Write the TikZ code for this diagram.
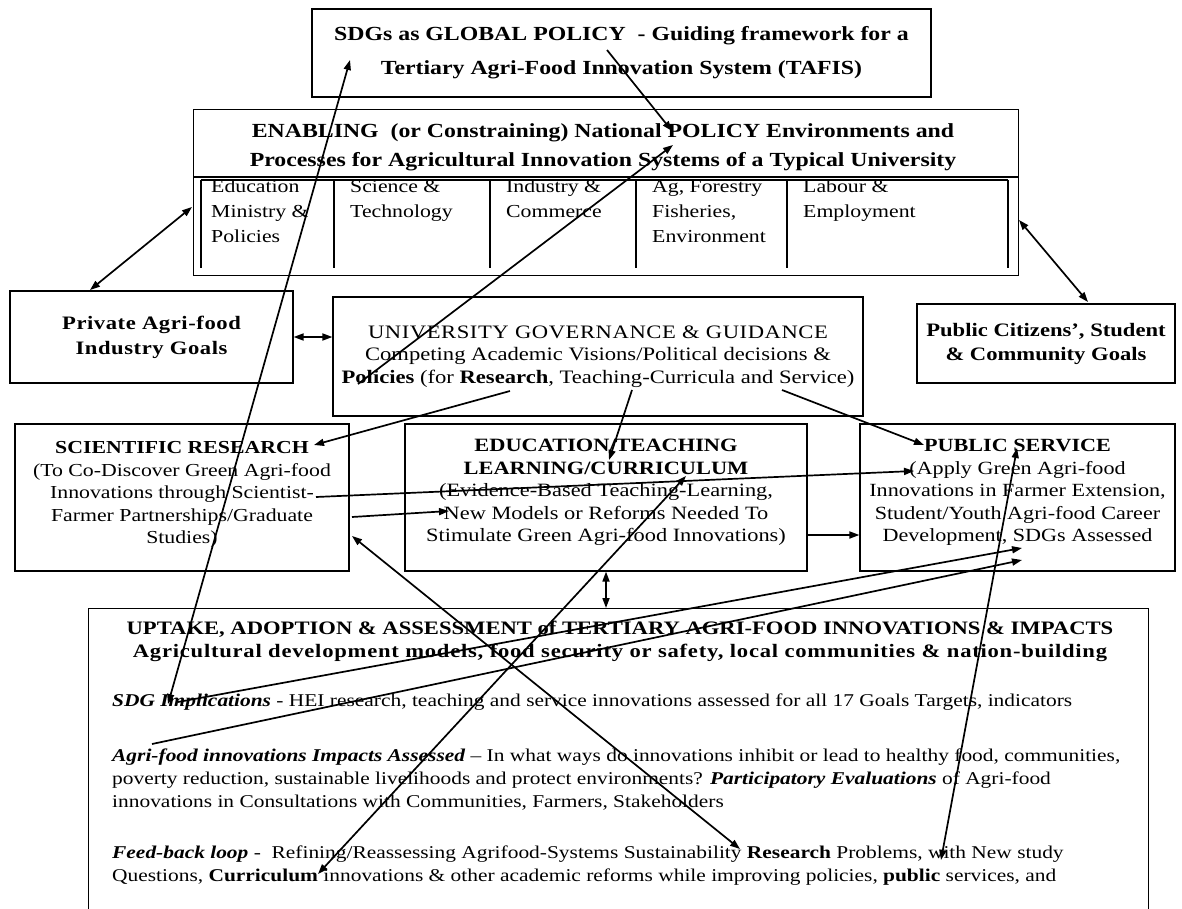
\documentclass[tikz,border=0pt]{standalone}
\usepackage{fontspec}
\setmainfont{Liberation Serif}[FakeStretch=1.19]
\usetikzlibrary{arrows.meta}
\begin{document}
\begin{tikzpicture}[x=1pt,y=-1pt,
  box/.style={draw,line width=1.2pt,inner sep=0pt,align=center,font=\fontsize{18.3}{22.5}\selectfont},
  coltext/.style={anchor=north west,inner sep=0pt,align=left,font=\fontsize{18.3}{25}\selectfont},
  para/.style={anchor=north west,inner sep=0pt,align=left,font=\fontsize{18}{23}\selectfont},
  arr/.style={-{Triangle[length=10pt,width=7pt]},line width=1.7pt},
  darr/.style={{Triangle[length=10pt,width=7pt]}-{Triangle[length=10pt,width=7pt]},line width=1.7pt}]
\useasboundingbox (0,0) rectangle (1182,909);
\node[box,minimum width=619,minimum height=88,font=\bfseries\fontsize{20}{34}\selectfont] (sdg) at (621.5,53)
  {SDGs as GLOBAL POLICY \ - Guiding framework for a\\Tertiary Agri-Food Innovation System (TAFIS)};
\node[box,anchor=north west,minimum width=825,minimum height=166] (enabling) at (193,109) {};
\node[inner sep=0pt,align=center,font=\bfseries\fontsize{20}{29}\selectfont] (enabtitle) at (603,147)
  {ENABLING \ (or Constraining) National POLICY Environments and\\Processes for Agricultural Innovation Systems of a Typical University};
\draw[line width=1.2pt] (enabling.west |- 0,177) -- (enabling.east |- 0,177);
\draw[line width=1.2pt] (201,180) -- (1008,180);
\foreach \x in {201,334,490,636,787,1008} \draw[line width=1.2pt] (\x,180) -- (\x,268);
\node[coltext] (edu) at (211,180) {Education\\Ministry \&\\Policies};
\node[coltext] (sci) at (350,180) {Science \&\\Technology};
\node[coltext] (ind) at (506,180) {Industry \&\\Commerce};
\node[coltext] (agf) at (652,180) {Ag, Forestry\\Fisheries,\\Environment};
\node[coltext] (lab) at (803,180) {Labour \&\\Employment};
\node[box,minimum width=283,minimum height=92,font=\bfseries\fontsize{19}{25}\selectfont\addfontfeature{LetterSpace=3}] (private) at (151.5,337)
  {Private Agri-food\\Industry Goals};
\node[box,minimum width=530,minimum height=119,font=\fontsize{19}{22.5}\selectfont] (univ) at (598,356.5)
  {{\addfontfeature{LetterSpace=3}UNIVERSITY GOVERNANCE \& GUIDANCE}\\Competing Academic Visions/Political decisions \&\\\textbf{Policies} (for \textbf{Research}, Teaching-Curricula and Service)};
\node[box,minimum width=258,minimum height=79,font=\bfseries\fontsize{19}{24}\selectfont] (citizens) at (1046,343.5)
  {Public Citizens', Student\\\& Community Goals};
\node[box,minimum width=334,minimum height=147] (research) at (182,497.5)
  {\textbf{SCIENTIFIC RESEARCH}\\(To Co-Discover Green Agri-food\\Innovations through Scientist-\\Farmer Partnerships/Graduate\\Studies)\\[-12.5pt]};
\node[box,minimum width=402,minimum height=147,font=\fontsize{18.8}{22.5}\selectfont] (educ) at (606,497.5)
  {\textbf{EDUCATION/TEACHING}\\\textbf{LEARNING/CURRICULUM}\\(Evidence-Based Teaching-Learning,\\New Models or Reforms Needed To\\Stimulate Green Agri-food Innovations)\\[-8.5pt]};
\node[box,minimum width=315,minimum height=147,font=\fontsize{18.6}{22.5}\selectfont] (pubserv) at (1017.5,497.5)
  {\textbf{PUBLIC SERVICE}\\(Apply Green Agri-food\\Innovations in Farmer Extension,\\Student/Youth Agri-food Career\\Development, SDGs Assessed\\[-8.5pt]};
\node[box,anchor=north west,minimum width=1060,minimum height=310] (uptake) at (88,608) {};
\node[inner sep=0pt,align=center,font=\bfseries\fontsize{19}{23}\selectfont] (uptitle) at (620,641.5)
  {UPTAKE, ADOPTION \& ASSESSMENT of TERTIARY AGRI-FOOD INNOVATIONS \& IMPACTS\\{\addfontfeature{LetterSpace=4}Agricultural development models, food security or safety, local communities \& nation-building}};
\node[para] (sdgimp) at (112,694)
  {\textbf{\textit{SDG Implications}} - HEI research, teaching and service innovations assessed for all 17 Goals Targets, indicators};
\node[para] (impacts) at (112,749)
  {\textbf{\textit{Agri-food innovations Impacts Assessed}} – In what ways do innovations inhibit or lead to healthy food, communities,\\poverty reduction, sustainable livelihoods and protect environments? \textbf{\textit{Participatory Evaluations}} of Agri-food\\innovations in Consultations with Communities, Farmers, Stakeholders};
\node[para] (feedback) at (112,846)
  {\textbf{\textit{Feed-back loop}} - \ Refining/Reassessing Agrifood-Systems Sustainability \textbf{Research} Problems, with New study\\Questions, \textbf{Curriculum} innovations \& other academic reforms while improving policies, \textbf{public} services, and};
\coordinate (tafisL) at (350,60);
\coordinate (implL) at (168,704);
\coordinate (globalY) at (607,50);
\coordinate (natPolicy) at (672,131);
\coordinate (policiesW) at (358,384);
\coordinate (natPolicyB) at (673,145);
\coordinate (privTop) at (90,290);
\coordinate (enabW) at (192,207);
\coordinate (citTop) at (1088,302);
\coordinate (enabE) at (1019,220);
\coordinate (univRes) at (510,391);
\coordinate (resHead) at (314,445);
\coordinate (univCur) at (632,390);
\coordinate (eduHead) at (609,460);
\coordinate (univServ) at (782,390);
\coordinate (psHead) at (924,445);
\coordinate (scientist) at (316,497);
\coordinate (apply) at (914,471);
\coordinate (resE) at (352,517);
\coordinate (evidence) at (449,511);
\coordinate (resSE) at (352,536);
\coordinate (fbResearch) at (740,849);
\coordinate (curriculum) at (318,874);
\coordinate (eduCurr) at (686,476);
\coordinate (implR) at (178,702);
\coordinate (sdgsA) at (1022,548);
\coordinate (agrifood) at (152,744);
\coordinate (sdgsB) at (1022,560);
\coordinate (fbWith) at (941,860);
\coordinate (psTop) at (1017,448);
\draw[darr] (tafisL) -- (implL);
\draw[arr] (globalY) -- (natPolicy);
\draw[arr] (policiesW) -- (natPolicyB);
\draw[darr] (privTop) -- (enabW);
\draw[darr] (citTop) -- (enabE);
\draw[darr] (private.east) -- (univ.west |- private.east);
\draw[arr] (univRes) -- (resHead);
\draw[arr] (univCur) -- (eduHead);
\draw[arr] (univServ) -- (psHead);
\draw[arr] (scientist) -- (apply);
\draw[arr] (resE) -- (evidence);
\draw[arr] (educ.east |- 0,535) -- (pubserv.west |- 0,535);
\draw[darr] (educ.south) -- (uptake.north -| educ.south);
\draw[darr] (resSE) -- (fbResearch);
\draw[darr] (curriculum) -- (eduCurr);
\draw[arr] (implR) -- (sdgsA);
\draw[arr] (agrifood) -- (sdgsB);
\draw[darr] (fbWith) -- (psTop);
\end{tikzpicture}
\end{document}
